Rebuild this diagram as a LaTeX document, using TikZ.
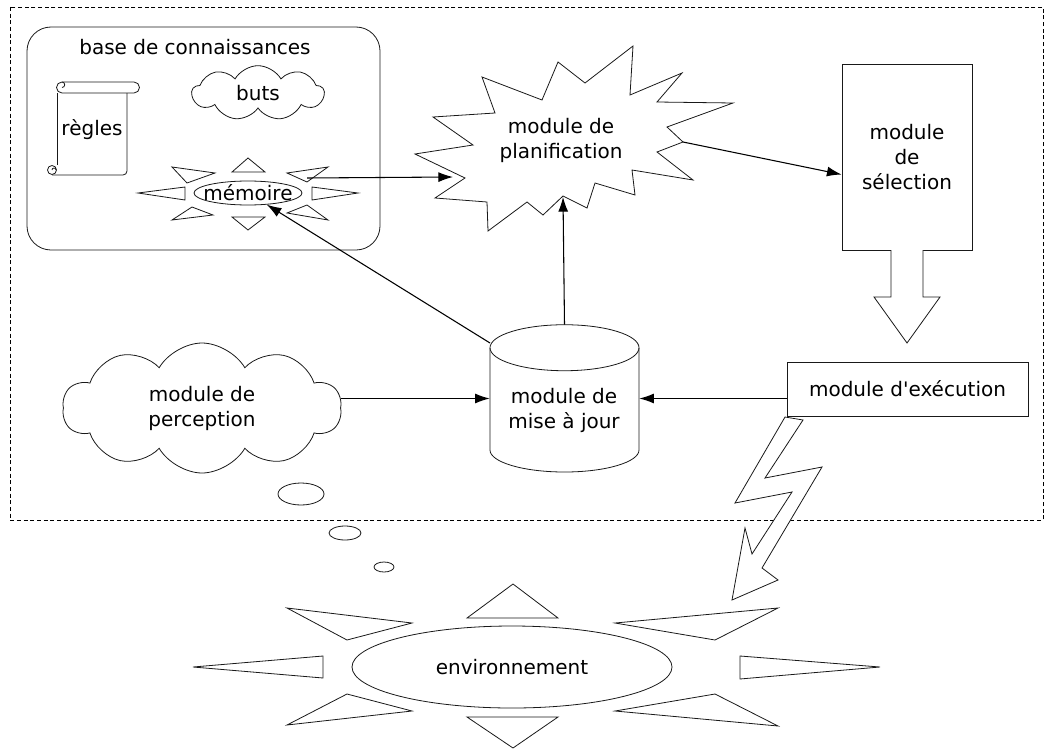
\documentclass[tikz,border=0pt]{standalone}
\usepackage{fontspec}
\setmainfont{DejaVu Sans}
\usetikzlibrary{arrows.meta,shapes.geometric,shapes.symbols}

\begin{document}
\begin{tikzpicture}[x=0.75pt, y=-0.75pt, >={Latex[length=11pt,width=7.5pt]},
    font=\fontsize{15}{18.75}\selectfont,
    shapeline/.style={draw=black!90, line width=0.6pt},
    link/.style={->, line width=0.8pt},
    ray/.style={shapeline, fill=white, line join=miter},
    modbox/.style={shapeline, rectangle, align=center, inner sep=0pt},
    puff/.style={shapeline, cloud, cloud puffs=10, cloud puff arc=120, cloud ignores aspect, align=center}]

    \useasboundingbox (0,0) rectangle (1044,749);

    % Agent frame
    \draw[densely dashed, line width=0.5pt] (10,7) rectangle (1043,520);

    % === KNOWLEDGE BASE ===
    \draw[shapeline, rounded corners=18pt] (27,27) rectangle (380,250);
    \node (kbtitle) at (195,47) {base de connaissances};

    % scroll of rules
    \draw[shapeline] (62,82) -- (134,82) arc[start angle=-90, end angle=90, radius=5.5] -- (62,93);
    \draw[shapeline] (62,93) arc[start angle=90, end angle=270, radius=5.5]
        arc[start angle=-90, end angle=90, radius=2.75];
    \draw[shapeline] (57,93) -- (57,165);
    \draw[shapeline, rounded corners=3pt] (127,93) -- (127,175) -- (52,175);
    \draw[shapeline] (52,170) circle[radius=4.5];
    \draw[shapeline] (52,170) arc[start angle=180, end angle=360, radius=2];
    \node (regles) at (92,130) {règles};

    % goals
    \node[puff, cloud puffs=9, minimum width=99pt, minimum height=41pt] (buts) at (258,93) {buts};

    % memory with its rays
    \foreach \ax/\ay/\bx/\by/\cx/\cy in {232/172/248/158/265/172, 232/217/248/230/265/217,
        185/187/138/193/185/200, 312/187/358/193/312/200, 172/167/215/173/187/183,
        287/173/328/167/307/182, 192/207/213/215/172/220, 287/213/307/205/328/220}
        \draw[ray] (\ax,\ay) -- (\bx,\by) -- (\cx,\cy) -- cycle;
    \node[ellipse, shapeline, inner xsep=-6pt, inner ysep=-2pt, minimum width=81pt, minimum height=18pt] (memoire) at (248,193) {mémoire};

    % === PLANNING (star) ===
    \draw[ray] (433,117) -- (495,113) -- (482,77) -- (542,100) -- (558,62) -- (585,83)
        -- (633,46) -- (630,95) -- (682,73) -- (657,102) -- (733,103) -- (667,127)
        -- (683,142) -- (657,152) -- (693,180) -- (632,170) -- (635,195) -- (595,183)
        -- (587,208) -- (563,196) -- (543,215) -- (527,202) -- (488,231) -- (487,202)
        -- (435,198) -- (465,178) -- (415,154) -- (473,145) -- cycle;
    \node[align=center] (plan) at (561,140) {module de\\planification};
    \coordinate (planwest) at (453,177);
    \coordinate (plansouth) at (563,197);
    \coordinate (planeast) at (683,142);
    \coordinate (memout) at (307,178);

    % === SELECTION ===
    \node[modbox, minimum width=97.5pt, minimum height=139.5pt] (sel) at (907,157) {module\\de\\sélection};
    \draw[ray] (891,250) -- (891,297) -- (874,297) -- (907,343) -- (940,297) -- (923,297) -- (923,250);

    % === UPDATE (cylinder) ===
    \node[minimum width=111.75pt, minimum height=110.25pt, inner sep=0pt] (maj) at (564.5,398.5) {};
    \draw[shapeline] (maj.north) ++(0,23) ellipse[x radius=74.5, y radius=23];
    \draw[shapeline] (490,348) -- (490,450) arc[start angle=180, end angle=0, x radius=74.5, y radius=22] -- (639,348);
    \node[align=center] (majtext) at (564,410) {module de\\mise à jour};
    \coordinate (majnw) at (490,343);

    % === PERCEPTION ===
    \node[puff, minimum width=209pt, minimum height=97.5pt] (perc) at (202,408) {module de\\perception};
    \draw[shapeline] (301,494) ellipse[x radius=23, y radius=11];
    \draw[shapeline] (345,533) ellipse[x radius=16, y radius=7];
    \draw[shapeline] (384,567) ellipse[x radius=10, y radius=5];

    % === EXECUTION ===
    \node[modbox, minimum width=180.75pt, minimum height=40.5pt] (exec) at (907.5,389) {module d\textquotesingle exécution};

    % lightning towards the environment
    \draw[ray] (785,417) -- (803,420) -- (765,478) -- (822,467) -- (762,568) -- (778,580)
        -- (732,600) -- (745,528) -- (752,554) -- (792,492) -- (735,503) -- cycle;

    % === ENVIRONMENT ===
    \foreach \ax/\ay/\bx/\by/\cx/\cy in {467/618/513/584/558/618, 467/717/513/748/558/717,
        323/656/193/667/323/678, 740/656/880/667/740/679, 287/608/412/623/347/640,
        347/694/412/711/287/725, 615/623/778/608/715/640, 615/711/715/694/778/726}
        \draw[ray] (\ax,\ay) -- (\bx,\by) -- (\cx,\cy) -- cycle;
    \node[ellipse, shapeline, minimum width=240pt, minimum height=61.5pt] (env) at (512,667) {environnement};

    % === CONNECTORS ===
    \draw[link] (memout) -- (planwest);
    \draw[link] (maj.north) -- (plansouth);
    \draw[link] (majnw) -- (memoire);
    \draw[link] (planeast) -- (sel.195);
    \draw[link] (perc.east |- maj.west) -- (maj.west);
    \draw[link] (exec.west |- maj.east) -- (maj.east);

\end{tikzpicture}
\end{document}
